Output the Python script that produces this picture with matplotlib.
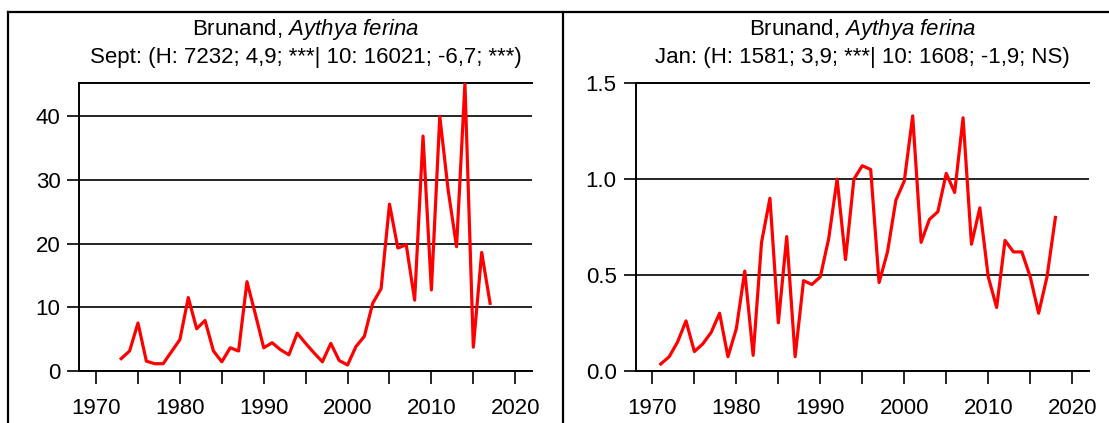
import matplotlib
matplotlib.use("Agg")
import matplotlib.pyplot as plt
from matplotlib.lines import Line2D

plt.rcParams['font.family'] = ['Liberation Sans', 'DejaVu Sans']
plt.rcParams['mathtext.fontset'] = 'custom'
plt.rcParams['mathtext.rm'] = 'Liberation Sans'
plt.rcParams['mathtext.it'] = 'Liberation Sans:italic'

# September counts
sept_years = list(range(1973, 2018))
sept_values = [1.9, 3.1, 7.5, 1.5, 1.1, 1.1, 3.0, 4.9, 11.5, 6.6,
               7.9, 3.1, 1.4, 3.6, 3.1, 14.0, 8.9, 3.6, 4.4, 3.3,
               2.5, 5.9, 4.3, 2.8, 1.4, 4.3, 1.6, 0.9, 3.8, 5.4,
               10.6, 12.9, 26.2, 19.3, 19.8, 11.1, 36.9, 12.7, 40.0, 28.4,
               19.5, 45.2, 3.7, 18.6, 10.6]

# January counts
jan_years = list(range(1971, 2019))
jan_values = [0.035, 0.073, 0.15, 0.26, 0.10, 0.14, 0.20, 0.30, 0.073, 0.22,
              0.52, 0.08, 0.67, 0.90, 0.25, 0.70, 0.073, 0.47, 0.45, 0.49,
              0.69, 1.00, 0.58, 1.00, 1.07, 1.05, 0.46, 0.62, 0.89, 0.99,
              1.33, 0.67, 0.79, 0.83, 1.03, 0.93, 1.32, 0.66, 0.85, 0.49,
              0.33, 0.68, 0.62, 0.62, 0.49, 0.30, 0.49, 0.80]

species = "Brunand, $\\mathit{Aythya\\ ferina}$"
sept_title = "Sept: (H: 7232; 4,9; ***| 10: 16021; -6,7; ***)"
jan_title = "Jan: (H: 1581; 3,9; ***| 10: 1608; -1,9; NS)"

W, H = 1109, 423
fig = plt.figure(figsize=(W / 100, H / 100), dpi=100)

panels = [
    (sept_years, sept_values, [0, 10, 20, 30, 40], (0, 45.2), sept_title,
     [79.3 / W, 52.3 / H, (532 - 79.3) / W, (370.7 - 83.3) / H]),
    (jan_years, jan_values, [0.0, 0.5, 1.0, 1.5], (0, 1.5), jan_title,
     [635.6 / W, 52.3 / H, (1089 - 635.6) / W, (370.7 - 83.3) / H]),
]

for years, values, yticks, ylim, subtitle, rect in panels:
    ax = fig.add_axes(rect)
    ax.plot(years, values, color='#ff0000', lw=2.3, zorder=3)
    ax.set_xlim(1968, 2022)
    ax.set_ylim(*ylim)
    ax.set_xticks(range(1970, 2021, 5))
    ax.set_xticklabels([str(y) if y % 10 == 0 else '' for y in range(1970, 2021, 5)])
    ax.set_yticks(yticks)
    if isinstance(yticks[0], float):
        ax.set_yticklabels([f"{t:.1f}" for t in yticks])
    ax.grid(axis='y', color='black', lw=1.2, zorder=1)
    ax.spines['right'].set_visible(False)
    for s in ['left', 'bottom', 'top']:
        ax.spines[s].set_linewidth(1.4)
        ax.spines[s].set_color('black')
    ax.tick_params(axis='x', direction='out', length=9.5, width=1.2, pad=10,
                   labelsize=16)
    ax.tick_params(axis='y', direction='out', length=8.6, width=1.2, pad=5,
                   labelsize=16)
    cx = rect[0] + rect[2] / 2
    fig.text(cx, 1 - 29 / H, species, ha='center', va='center', fontsize=16)
    fig.text(cx, 1 - 58 / H, subtitle, ha='center', va='center', fontsize=16)

# panel frame
fig.add_artist(Line2D([8 / W, 1], [1 - 12 / H, 1 - 12 / H], color='black', lw=1.6))
fig.add_artist(Line2D([8 / W, 8 / W], [0, 1 - 12 / H], color='black', lw=1.6))
fig.add_artist(Line2D([563 / W, 563 / W], [0, 1 - 12 / H], color='black', lw=1.6))

fig.savefig("out.png", dpi=100)
